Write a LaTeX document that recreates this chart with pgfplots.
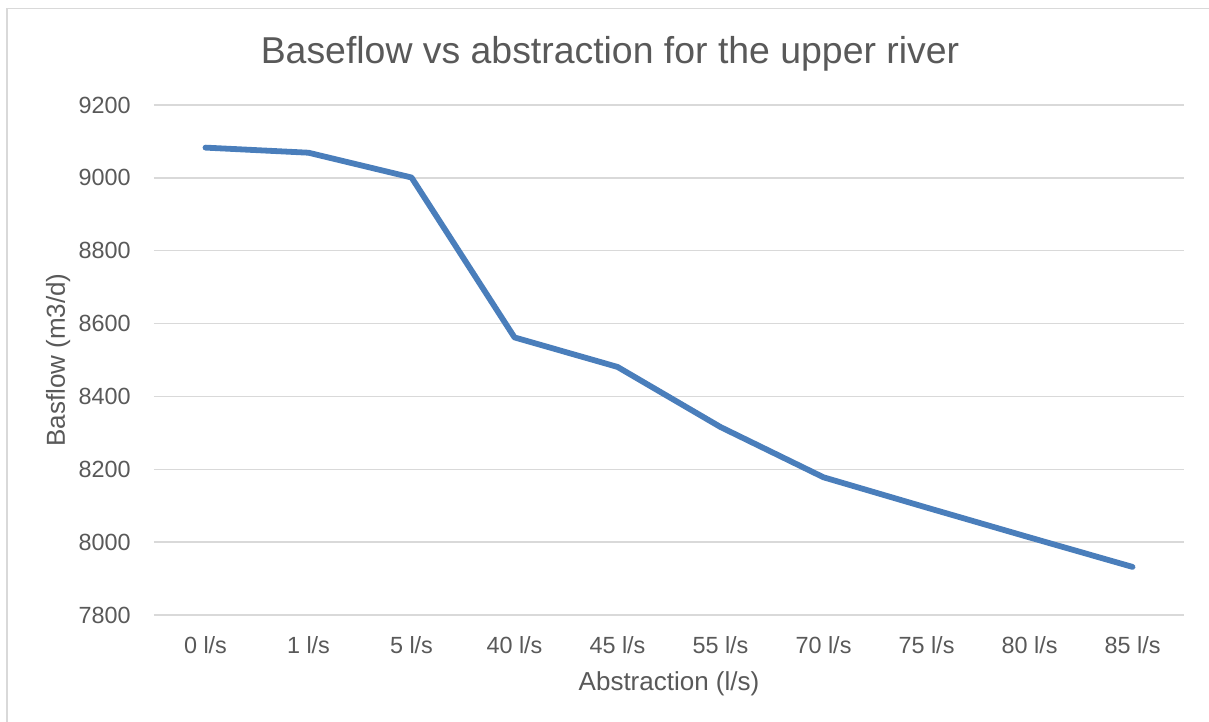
\documentclass[border=0pt]{standalone}
\usepackage{pgfplots}
\pgfplotsset{compat=1.18}
\usepackage{fontspec}
\setmainfont{Liberation Sans}

\definecolor{txtgray}{HTML}{595959}
\definecolor{gridgray}{HTML}{D9D9D9}
\definecolor{serblue}{HTML}{4A7EBB}

\pgfplotstableread{
idx flow
0 9083
1 9069
2 9001
3 8562
4 8481
5 8316
6 8178
7 8095
8 8013
9 7932
}\baseflow

\begin{document}
\begin{tikzpicture}
% chart area
\path[use as bounding box] (-77bp,-53.5bp) rectangle (527.5bp,307.5bp);
\fill[white] (-77bp,-53.5bp) rectangle (527.5bp,307.5bp);
\draw[gridgray, line width=0.8bp] (-73.5bp,-53.5bp) -- (-73.5bp,303.25bp) -- (527.5bp,303.25bp);

\begin{axis}[
  at={(0,0)}, anchor=south west,
  scale only axis,
  width=515bp, height=255bp,
  xmin=-0.5, xmax=9.5,
  ymin=7800, ymax=9200,
  xtick={0,...,9},
  xticklabels={0 l/s,1 l/s,5 l/s,40 l/s,45 l/s,55 l/s,70 l/s,75 l/s,80 l/s,85 l/s},
  ytick={7800,8000,...,9200},
  axis line style={draw=none},
  major tick length=0pt,
  ymajorgrids,
  grid style={gridgray, line width=0.7bp},
  /pgf/number format/assume math mode=true,
  /pgf/number format/set thousands separator={},
  tick label style={font=\fontsize{11.7bp}{14bp}\selectfont, text=txtgray},
  yticklabel style={anchor=east, inner sep=0pt, xshift=-11.5bp},
  xticklabel style={anchor=base, inner sep=0pt, yshift=-19bp},
  clip=false,
]
\addplot[serblue, line width=2.9bp, line join=round, line cap=round] table[x=idx, y=flow] {\baseflow};
\end{axis}

% titles
\node[anchor=base, text=txtgray, font=\fontsize{18.7bp}{22bp}\selectfont, inner sep=0pt]
  at (228bp,275.5bp) {Baseflow vs abstraction for the upper river};
\node[anchor=base, text=txtgray, font=\fontsize{13bp}{16bp}\selectfont, inner sep=0pt]
  at (257.5bp,-37.5bp) {Abstraction (l/s)};
\node[anchor=base, rotate=90, text=txtgray, font=\fontsize{13bp}{16bp}\selectfont, inner sep=0pt]
  at (-44.5bp,127.5bp) {Basflow (m3/d)};
\end{tikzpicture}
\end{document}
